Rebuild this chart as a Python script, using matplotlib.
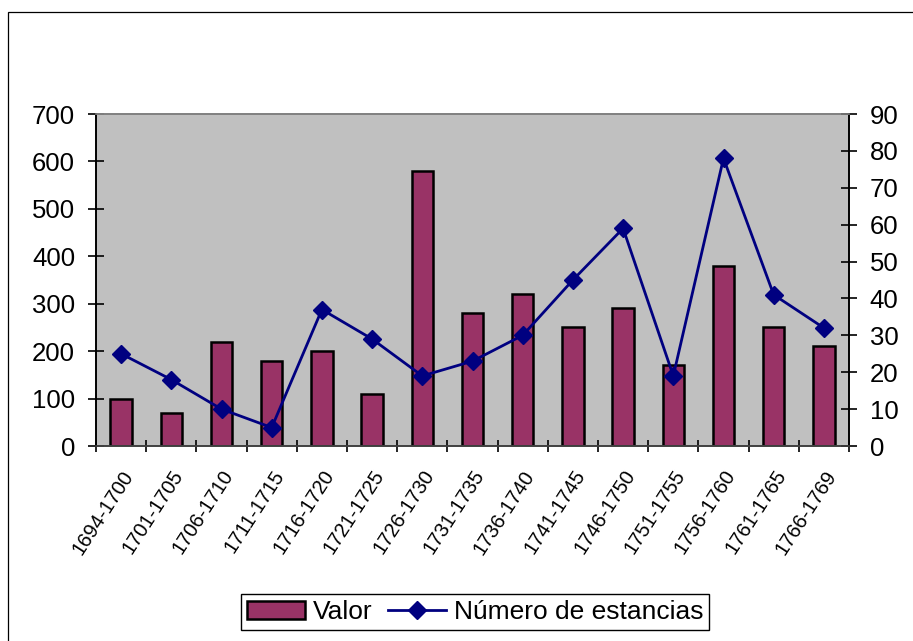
import matplotlib.pyplot as plt
import numpy as np
from matplotlib.patches import Rectangle
from matplotlib.lines import Line2D

plt.rcParams['font.family'] = ['Liberation Sans', 'DejaVu Sans']

periodos = ['1694-1700', '1701-1705', '1706-1710', '1711-1715', '1716-1720',
            '1721-1725', '1726-1730', '1731-1735', '1736-1740', '1741-1745',
            '1746-1750', '1751-1755', '1756-1760', '1761-1765', '1766-1769']
valor = [100, 70, 220, 180, 200, 110, 580, 280, 320, 250, 290, 170, 380, 250, 210]
estancias = [25, 18, 10, 5, 37, 29, 19, 23, 30, 45, 59, 19, 78, 41, 32]

fig = plt.figure(figsize=(9.13, 6.41), dpi=100)
# outer chart frame (cut off at right and bottom like the original)
fig.patches.append(Rectangle((8/913, -0.05), 1.2, 1 - 12/641 + 0.05,
                             transform=fig.transFigure, fill=False,
                             edgecolor='black', lw=0.9))

ax1 = fig.add_axes([96/913, 1 - 446/641, (849 - 96)/913, (446 - 114)/641])
ax1.set_facecolor('#C0C0C0')
x = np.arange(len(periodos))
ax1.bar(x, valor, width=0.43, color='#993366', edgecolor='black', lw=1.8, zorder=2)
ax1.set_xlim(-0.5, len(periodos) - 0.5)
ax1.set_ylim(0, 700)
ax1.set_yticks(range(0, 701, 100))

ax2 = ax1.twinx()
ax2.plot(x, estancias, color='#000080', lw=2, marker='D', markersize=9.5, zorder=3)
ax2.set_ylim(0, 90)
ax2.set_yticks(range(0, 91, 10))

for a in (ax1, ax2):
    for s in a.spines.values():
        s.set_linewidth(1.2)
    a.spines['top'].set_color('#808080')
    a.spines['bottom'].set_color('#404040')
    a.tick_params(axis='y', direction='inout', length=12, width=1.2, labelsize=18.5, pad=9)

# ticks sit between categories, labels at the category centres
ax1.set_xticks(np.arange(len(periodos) + 1) - 0.5, minor=False)
ax1.set_xticklabels([])
ax1.set_xticks(x, minor=True)
ax1.set_xticklabels(periodos, minor=True, rotation=57, ha='right', va='top',
                    rotation_mode='anchor', fontsize=14.5)
ax1.tick_params(axis='x', which='major', direction='inout', length=9, width=1.2)
ax1.tick_params(axis='x', which='minor', length=0, pad=15)

handles = [Rectangle((0, 0), 1, 1, facecolor='#993366', edgecolor='black', lw=1.8),
           Line2D([], [], color='#000080', lw=2, marker='D', markersize=9)]
fig.legend(handles, ['Valor', 'Número de estancias'], loc='center',
           bbox_to_anchor=(475/913, 1 - 612/641), ncol=2, fontsize=19,
           frameon=True, fancybox=False, edgecolor='black', framealpha=1,
           handlelength=2.2, handletextpad=0.3, columnspacing=0.6,
           borderpad=0.22)

fig.savefig('out.png', dpi=100)
